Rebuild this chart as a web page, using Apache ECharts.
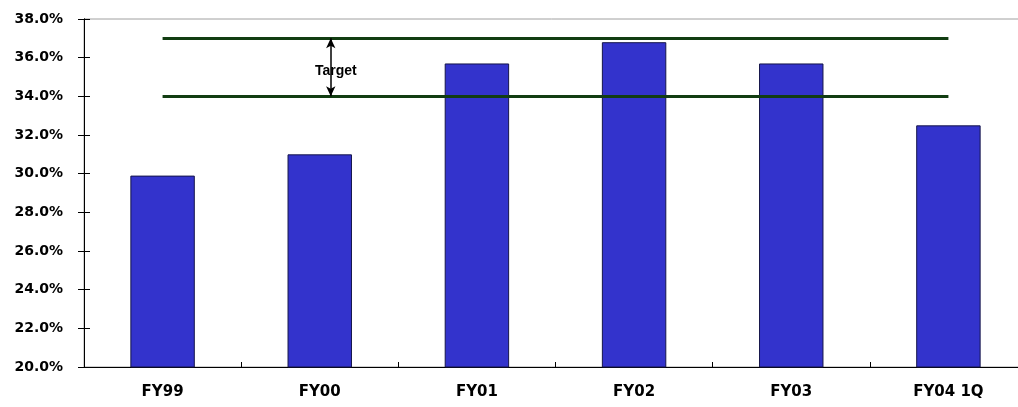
<!DOCTYPE html>
<html>
<head>
<meta charset="utf-8">
<script src="https://cdn.jsdelivr.net/npm/echarts@6/dist/echarts.min.js"></script>
<style>
  html, body { margin: 0; padding: 0; background: #fff; }
  #chart { width: 1018px; height: 407px; }
</style>
</head>
<body>
<div id="chart"></div>
<script>
// Fiscal periods and the ratio reached in each (percent)
const categories = ['FY99', 'FY00', 'FY01', 'FY02', 'FY03', 'FY04 1Q'];
const ratioValues = [29.9, 31.0, 35.7, 36.8, 35.7, 32.5];
// Target band (percent)
const targetBand = [34, 37];
const targetLabel = 'Target';
// Y axis range and step (percent)
const yMin = 20, yMax = 38, yStep = 2;

// Where the double arrow sits, in category units along a hidden value axis
const arrowX = 1.57;

const labelFont = '"DejaVu Sans", sans-serif';

const chart = echarts.init(document.getElementById('chart'), null, { renderer: 'canvas' });

const yBase = {
  type: 'value', min: yMin, max: yMax, interval: yStep,
  splitLine: { show: false }
};

chart.setOption({
  animation: false,
  backgroundColor: '#fff',
  grid: {
    left: 84, right: -9, top: 19, bottom: 40,
    outerBoundsMode: 'none',
    show: true, borderColor: '#a0a0a0', borderWidth: 1,
    backgroundColor: 'transparent'
  },
  xAxis: [
    {
      type: 'category', data: categories, position: 'bottom',
      axisLine: { lineStyle: { color: '#000', width: 1 } },
      axisTick: { length: 5, lineStyle: { color: '#000' } },
      axisLabel: {
        color: '#000', fontFamily: labelFont, fontWeight: 'bold',
        fontSize: 15, margin: 18
      }
    },
    {
      type: 'category', data: categories, position: 'bottom',
      axisLine: { show: true, lineStyle: { color: '#000', width: 1 } },
      axisTick: { show: true, inside: true, length: 5, lineStyle: { color: '#000' } },
      axisLabel: { show: false }
    },
    { type: 'value', min: 0, max: categories.length, position: 'top', show: false }
  ],
  yAxis: [
    Object.assign({}, yBase, {
      position: 'left',
      axisLine: { show: true, lineStyle: { color: '#000', width: 1 } },
      axisTick: { show: true, length: 6, lineStyle: { color: '#000' } },
      axisLabel: {
        color: '#000', fontFamily: labelFont, fontWeight: 'bold',
        fontSize: 14, margin: 21,
        formatter: v => v.toFixed(1) + '%'
      }
    }),
    Object.assign({}, yBase, {
      position: 'left',
      axisLine: { show: true, lineStyle: { color: '#000', width: 1 } },
      axisTick: { show: true, inside: true, length: 6, lineStyle: { color: '#000' } },
      axisLabel: { show: false }
    })
  ],
  series: [
    {
      type: 'bar', data: ratioValues, xAxisIndex: 0, yAxisIndex: 0,
      barWidth: '41%',
      itemStyle: { color: '#3333cc', borderColor: '#15154a', borderWidth: 1 },
      markLine: {
        silent: true, symbol: 'none',
        label: { show: false },
        lineStyle: { color: '#123d12', width: 3, type: 'solid' },
        data: targetBand.map(v => [
          { coord: [categories[0], v] },
          { coord: [categories[categories.length - 1], v] }
        ])
      },
      z: 2
    },
    {
      // double-headed arrow spanning the target band
      type: 'line', data: [], xAxisIndex: 2, yAxisIndex: 0,
      markLine: {
        silent: true,
        symbol: ['arrow', 'arrow'], symbolSize: [7, 10],
        label: { show: false },
        lineStyle: { color: '#000', width: 1.5, type: 'solid' },
        data: [[{ coord: [arrowX, targetBand[1]] }, { coord: [arrowX, targetBand[0]] }]]
      },
      z: 3
    },
    {
      // band caption, centred between the two target lines
      type: 'scatter', xAxisIndex: 2, yAxisIndex: 0,
      data: [[arrowX, (targetBand[0] + targetBand[1]) / 2]],
      symbolSize: 1, itemStyle: { color: '#fff' },
      label: {
        show: true, position: 'inside', formatter: targetLabel,
        color: '#000', textBorderWidth: 0, opacity: 1,
        fontFamily: '"Liberation Sans", Arial, sans-serif',
        fontWeight: 'bold', fontSize: 14,
        backgroundColor: '#fff', padding: [1, 1],
        offset: [5, 4]
      },
      emphasis: { disabled: true },
      z: 4
    }
  ]
});
</script>
</body>
</html>
